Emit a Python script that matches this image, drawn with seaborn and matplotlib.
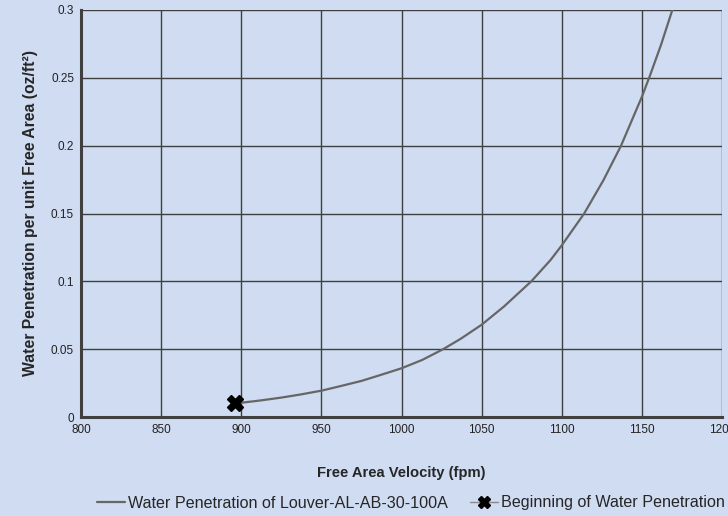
import numpy as np
import pandas as pd
import seaborn as sns
import matplotlib.pyplot as plt

# curve
velocity = [897, 900, 912, 925, 937, 950, 962, 975, 987, 1000, 1013, 1026, 1037, 1050, 1064, 1081,
            1093, 1100, 1114, 1126, 1137, 1150, 1155, 1162, 1169]
penetration = [0.0100, 0.0105, 0.0122, 0.0143, 0.0166, 0.0194, 0.0228, 0.0266, 0.0310, 0.0359,
               0.0421, 0.0500, 0.0577, 0.0680, 0.0815, 0.1000, 0.1157, 0.1265, 0.1500, 0.1745,
               0.2000, 0.2360, 0.2515, 0.2745, 0.3000]

# beginning of penetration point
start_v = [896]
start_p = [0.0103]

x_ticks = [800, 850, 900, 950, 1000, 1050, 1100, 1150, 1200]
y_ticks = [0, 0.05, 0.1, 0.15, 0.2, 0.25, 0.3]
y_labels = ["0", "0.05", "0.1", "0.15", "0.2", "0.25", "0.3"]

bg = "#cfdcf1"
grid_c = "#3f3f3f"

sns.set_theme(style="white")
plt.rcParams["font.family"] = ["Liberation Sans", "DejaVu Sans"]

fig = plt.figure(figsize=(7.28, 5.16), dpi=100, facecolor=bg)
ax = fig.add_axes([81 / 728, 99 / 516, 641 / 728, 407 / 516])
ax.set_facecolor(bg)

curve = pd.DataFrame({"v": velocity, "p": penetration})
sns.lineplot(data=curve, x="v", y="p", ax=ax, color="#666666", lw=1.6,
             label="Water Penetration of Louver-AL-AB-30-100A", zorder=3)
ax.plot(start_v, start_p, color="#8a8a8a", lw=1, marker="X", markersize=11,
        markerfacecolor="black", markeredgecolor="black",
        label="Beginning of Water Penetration", zorder=4)

ax.set_xlim(800, 1200)
ax.set_ylim(0, 0.3)
ax.set_xticks(x_ticks)
ax.set_yticks(y_ticks)
ax.set_yticklabels(y_labels)
ax.tick_params(axis="both", labelsize=8.5, colors="#222222", length=3, width=1.5,
               direction="out", pad=2)
ax.tick_params(axis="both", color="#404040")

ax.grid(True, color=grid_c, lw=1)
ax.set_axisbelow(True)
for side in ["top", "right"]:
    ax.spines[side].set_visible(False)
for side in ["left", "bottom"]:
    ax.spines[side].set_color("#404040")
    ax.spines[side].set_linewidth(2.2)
    ax.spines[side].set_zorder(5)

ax.set_xlabel("Free Area Velocity (fpm)", fontsize=10.6, fontweight="bold", labelpad=22)
ax.set_ylabel("Water Penetration per unit Free Area (oz/ft²)", fontsize=11.3,
              fontweight="bold", labelpad=9)

handles, labels = ax.get_legend_handles_labels()
ax.get_legend().remove()
fig.legend(handles, labels, loc="center", bbox_to_anchor=(411 / 728, 13 / 516), ncol=2,
           frameon=False, fontsize=11.6, handlelength=1.7, handletextpad=0.2,
           columnspacing=1.4, markerscale=0.8)

fig.savefig("out.png", dpi=100, facecolor=bg)
